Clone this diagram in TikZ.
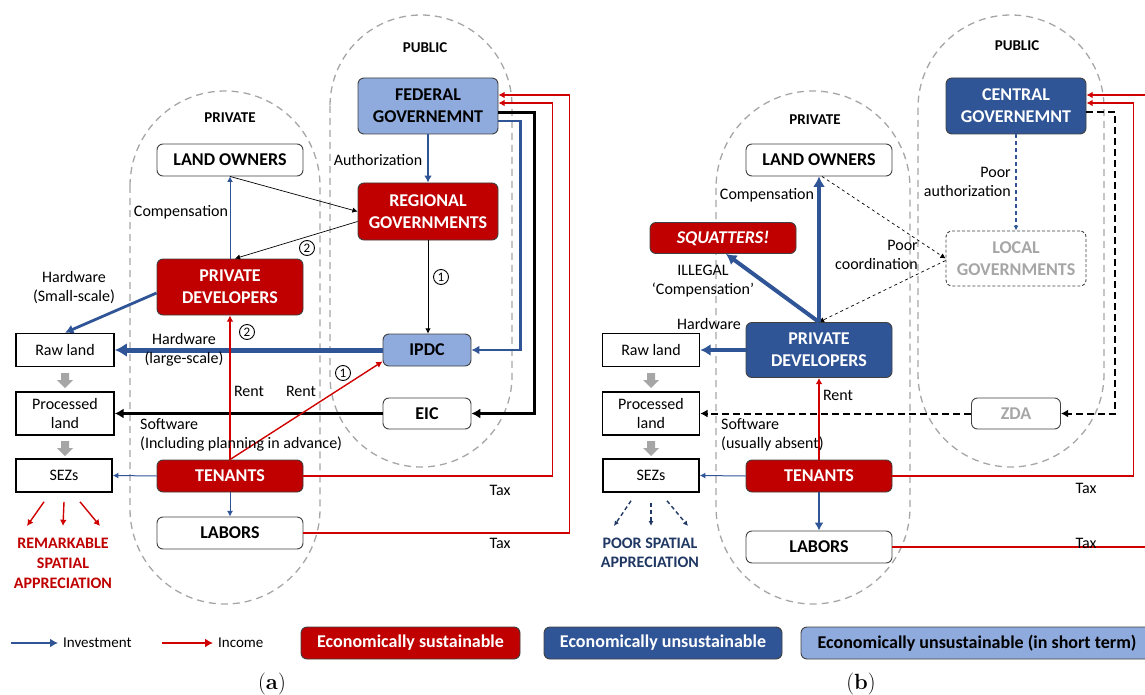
\documentclass[tikz,border=0pt]{standalone}
\usepackage{fontspec}
\usetikzlibrary{arrows.meta}
\newfontfamily\calibri{Carlito}
\definecolor{sred}{HTML}{C00000}
\definecolor{dblue}{HTML}{2F5597}
\definecolor{lblue}{HTML}{8FAADC}
\definecolor{ablue}{HTML}{2F5597}
\definecolor{lred}{HTML}{D00000}
\definecolor{ovgray}{HTML}{A6A6A6}
\definecolor{navy}{HTML}{203864}

\tikzset{
  box/.style={draw=black!75, line width=0.9pt, rounded corners=6pt, align=center, inner sep=0pt,
    font=\calibri\bfseries\fontsize{18}{22}\selectfont},
  redbox/.style={box, fill=sred, text=white},
  darkbox/.style={box, fill=dblue, text=white},
  lightbox/.style={box, fill=lblue},
  whitebox/.style={box, fill=white},
  landbox/.style={draw=black, line width=1.6pt, align=center, inner sep=0pt,
    font=\calibri\fontsize{16}{19}\selectfont},
  lbl/.style={align=center, inner sep=0pt, font=\calibri\fontsize{16}{19}\selectfont},
  head/.style={inner sep=0pt, font=\calibri\bfseries\fontsize{15}{18}\selectfont},
  num/.style={circle, draw, line width=0.9pt, inner sep=0pt, minimum size=15pt,
    font=\calibri\fontsize{13}{13}\selectfont},
  oval/.style={draw=ovgray, line width=1.3pt, dash pattern=on 7pt off 5pt},
  inv/.style={draw=ablue, -{Latex[length=4pt 1.6, width=4pt 2]}},
  inc/.style={draw=lred, line width=1.4pt, -{Latex[length=4pt 1.6, width=4pt 2]}},
  blk/.style={draw=black, -{Latex[length=4pt 1.6, width=4pt 2]}},
}

\begin{document}
\begin{tikzpicture}[x=1pt,y=-1pt]
  \useasboundingbox (0,0) rectangle (1145,695);
  \clip (0,0) rectangle (1145,695);

  % publiek / privaat
  \draw[oval, rounded corners=91pt] (330,15) rectangle (512,467);
  \draw[oval, rounded corners=95pt] (130,91) rectangle (320,604);
  \draw[oval, rounded corners=93pt] (918,15) rectangle (1104,467);
  \draw[oval, rounded corners=97pt] (716,91) rectangle (910,604);
  \node[head] (puba) at (425,48) {PUBLIC};
  \node[head] (priva) at (230,118) {PRIVATE};
  \node[head] (pubb) at (1017,46) {PUBLIC};
  \node[head] (privb) at (815,120) {PRIVATE};

  % (a)
  \node[lightbox, minimum width=140pt, minimum height=56pt] (fed) at (428,106) {FEDERAL\\GOVERNEMNT};
  \node[redbox, minimum width=140pt, minimum height=57pt] (reg) at (428,211.5) {REGIONAL\\GOVERNMENTS};
  \node[whitebox, minimum width=146pt, minimum height=32pt] (lo) at (230,160) {LAND OWNERS};
  \node[redbox, minimum width=146pt, minimum height=56pt] (pd) at (230,287) {PRIVATE\\DEVELOPERS};
  \node[lightbox, minimum width=88pt, minimum height=32pt] (ipdc) at (427,350) {IPDC};
  \node[whitebox, minimum width=88pt, minimum height=31pt] (eic) at (427,413.5) {EIC};
  \node[redbox, minimum width=146pt, minimum height=32pt] (ten) at (230,476) {TENANTS};
  \node[whitebox, minimum width=146pt, minimum height=32pt] (lab) at (230,533) {LABORS};
  \node[landbox, minimum width=98pt, minimum height=33pt] (raw) at (65,350) {Raw land};
  \node[landbox, minimum width=98pt, minimum height=43pt] (proc) at (65,413.5) {Processed\\land};
  \node[landbox, minimum width=96pt, minimum height=33pt] (sez) at (64,475.5) {SEZs};
  \node[lbl, font=\calibri\bfseries\fontsize{16}{20}\selectfont, text=sred] (rem) at (63,563) {REMARKABLE\\SPATIAL\\APPRECIATION};

  \draw[inv, line width=1.8pt] (fed) -- (reg);
  \draw[blk, line width=0.7pt] (lo.south) -- (reg.west);
  \draw[blk, line width=0.7pt] ([yshift=-10pt]reg.west) -- ([xshift=5pt]pd.north);
  \draw[inv, line width=0.9pt] (pd.north) -- (lo.south);
  \draw[blk, line width=0.7pt] (reg.south) -- (reg.south |- ipdc.north);
  \draw[inv, line width=2.8pt] ([yshift=-6pt]pd.west) -- (raw.north);
  \draw[inv, line width=5pt] (ipdc) -- (raw);
  \draw[blk, line width=3pt] (eic) -- (proc);
  \draw[inc] (ten.north) -- (pd.south);
  \draw[inc] (ten.north) -- ([yshift=5pt]ipdc.south west);
  \draw[inv, line width=2.5pt] ([yshift=-15pt]fed.east) -- ++(22,0) |- (ipdc.east);
  \draw[blk, line width=3pt] ([yshift=-7pt]fed.east) -- ++(36,0) |- (eic.east);
  \draw[inc] (ten.east) -- ++(249,0) |- ([yshift=3pt]fed.east);
  \draw[inc] (lab.east) -- ++(266,0) |- ([yshift=11pt]fed.east);
  \draw[inv, line width=1pt] (ten.west) -- (sez.east);
  \draw[inv, line width=1pt] (ten.south) -- (lab.north);

  \node[lbl] (auth) at (378,160) {Authorization};
  \node[lbl] (comp) at (181,212) {Compensation};
  \node[lbl] (hws) at (74,287.5) {Hardware\\(Small-scale)};
  \node[lbl] (hwl) at (184,349.5) {Hardware\\(large-scale)};
  \node[lbl] (renta) at (249,391) {Rent};
  \node[lbl] (rentb) at (301,391) {Rent};
  \node[lbl, anchor=west, align=left] (sw) at (140,434.5) {Software\\(Including planning in advance)};
  \node[lbl] (taxa) at (500,490) {Tax};
  \node[lbl] (taxb) at (500,543) {Tax};
  \node[num] (na) at (307,248) {2};
  \node[num] (nb) at (441,277) {1};
  \node[num] (nc) at (247,332) {2};
  \node[num] (nd) at (343,373) {1};

  % (b)
  \node[darkbox, minimum width=140pt, minimum height=56pt] (cg) at (1016,106) {CENTRAL\\GOVERNEMNT};
  \node[whitebox, minimum width=146pt, minimum height=32pt] (lob) at (819,160) {LAND OWNERS};
  \node[redbox, minimum width=146pt, minimum height=31pt, font=\calibri\bfseries\itshape\fontsize{18}{22}\selectfont] (sq) at (723,238) {SQUATTERS!};
  \node[whitebox, dash pattern=on 3pt off 2pt, text=ovgray, minimum width=140pt, minimum height=55pt] (lg) at (1016,258.5) {LOCAL\\GOVERNMENTS};
  \node[darkbox, minimum width=146pt, minimum height=55pt] (pdb) at (819,350) {PRIVATE\\DEVELOPERS};
  \node[whitebox, text=ovgray, minimum width=89pt, minimum height=31pt] (zda) at (1016,413.5) {ZDA};
  \node[redbox, minimum width=146pt, minimum height=32pt] (tenb) at (819,476) {TENANTS};
  \node[whitebox, minimum width=146pt, minimum height=32pt] (labb) at (819,547) {LABORS};
  \node[landbox, minimum width=97pt, minimum height=33pt] (rawb) at (651,350) {Raw land};
  \node[landbox, minimum width=97pt, minimum height=43pt] (procb) at (651,413.5) {Processed\\land};
  \node[landbox, minimum width=96pt, minimum height=33pt] (sezb) at (651,475.5) {SEZs};
  \node[lbl, font=\calibri\bfseries\fontsize{16}{19}\selectfont, text=navy] (poor) at (650,552.5) {POOR SPATIAL\\APPRECIATION};

  \draw[draw=ablue, line width=1.5pt, dash pattern=on 4pt off 3pt, -{Latex[length=5pt,width=5pt]}] (cg) -- (lg);
  \draw[blk, line width=0.7pt, dashed] ([xshift=3pt]lob.south) -- (lg.west);
  \draw[blk, line width=0.7pt, dashed] ([yshift=-2pt]lg.west) -- (pdb.north);
  \draw[inv, line width=4pt] (pdb.north) -- (lob.south);
  \draw[inv, line width=4pt] (pdb.north) -- ([xshift=3pt]sq.south);
  \draw[inv, line width=4pt] (pdb) -- (rawb);
  \draw[inc] (tenb.north) -- (pdb.south);
  \draw[blk, line width=2pt, dash pattern=on 7pt off 4pt] (zda) -- (procb);
  \draw[blk, line width=2pt, dash pattern=on 7pt off 4pt] ([yshift=-6pt]cg.east) -- ++(29,0) |- (zda.east);
  \draw[inc] (tenb.east) -- ++(241,0) |- ([yshift=3pt]cg.east);
  \draw[inc] (labb.east) -- ++(290,0) |- ([yshift=11pt]cg.east);
  \draw[inv, line width=1pt] (tenb.west) -- (sezb.east);
  \draw[inv, line width=2.5pt] (tenb.south) -- (labb.north);

  \node[lbl, anchor=east, align=right] (pauth) at (1011,181.5) {Poor\\authorization};
  \node[lbl] (compb) at (767,195) {Compensation};
  \node[lbl, anchor=east, align=right] (pcoord) at (918,254.5) {Poor\\coordination};
  \node[lbl] (illegal) at (703,281.5) {ILLEGAL\\‘Compensation’};
  \node[lbl] (hwb) at (709,324) {Hardware};
  \node[lbl] (rentc) at (838,395) {Rent};
  \node[lbl, anchor=west, align=left] (swb) at (721,434.5) {Software\\(usually absent)};
  \node[lbl] (taxc) at (1086,488) {Tax};
  \node[lbl] (taxd) at (1086,543) {Tax};

  % grijze pijlen tussen de grondstadia
  \foreach \x in {65,651} {
    \foreach \y in {373,441} {
      \fill[ovgray] (\x-4,\y) -- (\x+4,\y) -- (\x+4,\y+7) -- (\x+8,\y+7) -- (\x,\y+15)
        -- (\x-8,\y+7) -- (\x-4,\y+7) -- cycle;
    }
  }

  % ruimtelijke waardering
  \coordinate (ra) at (27,526);
  \coordinate (rb) at (63,526);
  \coordinate (rc) at (100,526);
  \draw[inc] ([xshift=-20pt,yshift=-9pt]sez.south) -- (ra);
  \draw[inc] ([yshift=-9pt]sez.south) -- (rb);
  \draw[inc] ([xshift=16pt,yshift=-9pt]sez.south) -- (rc);
  \coordinate (pa) at (614,526);
  \coordinate (pb) at (651,526);
  \coordinate (pc) at (688,526);
  \draw[draw=navy, line width=1.4pt, dash pattern=on 4pt off 3pt, -{Latex[length=5pt,width=5pt]}] ([xshift=-20pt,yshift=-8pt]sezb.south) -- (pa);
  \draw[draw=navy, line width=1.4pt, dash pattern=on 4pt off 3pt, -{Latex[length=5pt,width=5pt]}] ([yshift=-10pt]sezb.south) -- (pb);
  \draw[draw=navy, line width=1.4pt, dash pattern=on 4pt off 3pt, -{Latex[length=5pt,width=5pt]}] ([xshift=16pt,yshift=-8pt]sezb.south) -- (pc);

  % legenda
  \coordinate (invs) at (11,643);
  \coordinate (incs) at (162,643);
  \node[lbl, anchor=west, font=\calibri\fontsize{15}{18}\selectfont] (invl) at (63,643) {Investment};
  \node[lbl, anchor=west, font=\calibri\fontsize{15}{18}\selectfont] (incl) at (218,643) {Income};
  \draw[inv, line width=2.5pt] (invs) -- ([xshift=-5pt]invl.west);
  \draw[inc, line width=2.5pt] (incs) -- ([xshift=-5pt]incl.west);
  \node[redbox, minimum width=219pt, minimum height=32pt] (lsus) at (410.5,643) {Economically sustainable};
  \node[darkbox, minimum width=238pt, minimum height=32pt] (luns) at (663,643) {Economically unsustainable};
  \node[lightbox, minimum width=352pt, minimum height=32pt] (lshort) at (977,643) {Economically unsustainable (in short term)};

  \node[font=\fontsize{22}{22}\selectfont] (capa) at (272,684) {(\textbf{a})};
  \node[font=\fontsize{22}{22}\selectfont] (capb) at (861,684) {(\textbf{b})};
\end{tikzpicture}
\end{document}
